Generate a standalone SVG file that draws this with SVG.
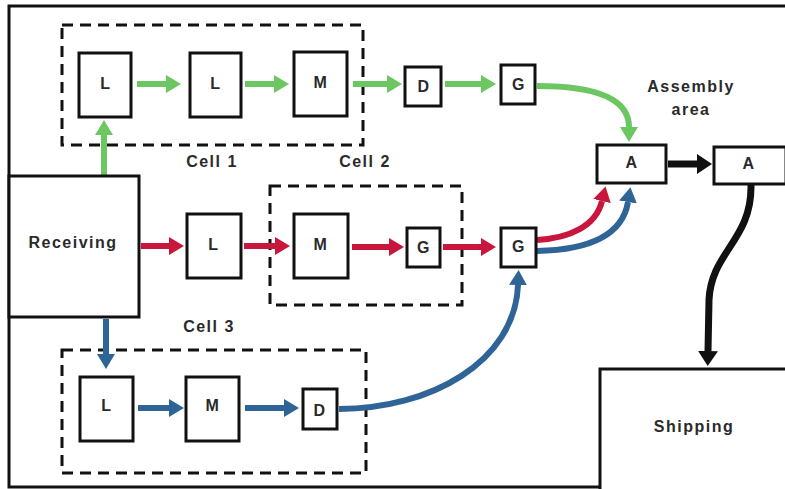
<svg xmlns="http://www.w3.org/2000/svg" width="785" height="489" viewBox="0 0 785 489">
<style>
.box{fill:#fff;stroke:#111;stroke-width:3}
.cell{fill:none;stroke:#111;stroke-width:3;stroke-dasharray:11,7}
.t{font-family:"Liberation Sans",Arial,sans-serif;font-weight:bold;font-size:16px;letter-spacing:1.5px;fill:#2a2a2a;text-anchor:middle}
.g{fill:none;stroke:#6cc763;stroke-width:6}
.r{fill:none;stroke:#c8163c;stroke-width:6}
.b{fill:none;stroke:#2f6496;stroke-width:6}
.k{fill:none;stroke:#111;stroke-width:7}
</style>
<defs>
<marker id="mg" markerUnits="userSpaceOnUse" markerWidth="16" markerHeight="18" refX="0" refY="9" orient="auto"><path d="M0,0 L15,9 L0,18 z" fill="#6cc763"/></marker>
<marker id="mr" markerUnits="userSpaceOnUse" markerWidth="16" markerHeight="18" refX="0" refY="9" orient="auto"><path d="M0,0 L15,9 L0,18 z" fill="#c8163c"/></marker>
<marker id="mb" markerUnits="userSpaceOnUse" markerWidth="16" markerHeight="18" refX="0" refY="9" orient="auto"><path d="M0,0 L15,9 L0,18 z" fill="#2f6496"/></marker>
<marker id="mk" markerUnits="userSpaceOnUse" markerWidth="16" markerHeight="20" refX="0" refY="10" orient="auto"><path d="M0,0 L15,10 L0,20 z" fill="#111"/></marker>
</defs>
<rect width="785" height="489" fill="#fff"/>
<rect x="9" y="6" width="790" height="481" fill="none" stroke="#111" stroke-width="3"/>

<g id="cells">
<rect class="cell" x="62" y="25" width="301" height="120"/>
<rect class="cell" x="270" y="186" width="192" height="119"/>
<rect class="cell" x="62" y="350" width="304" height="123"/>
<text class="t" x="212" y="167">Cell 1</text>
<text class="t" x="365" y="167">Cell 2</text>
<text class="t" x="209" y="332">Cell 3</text>
<text class="t" x="691" y="92">Assembly</text>
<text class="t" x="691" y="115">area</text>
</g>

<g id="connectors">
<path class="g" d="M137,84 H166" marker-end="url(#mg)"/>
<path class="g" d="M245,84 H274" marker-end="url(#mg)"/>
<path class="g" d="M353,84 H387" marker-end="url(#mg)"/>
<path class="g" d="M445,84 H481" marker-end="url(#mg)"/>
<path class="g" d="M104,176 V135" marker-end="url(#mg)"/>
<path class="g" d="M537,86 C600,86 629,100 629,127" marker-end="url(#mg)"/>
<path class="r" d="M141,246 H169" marker-end="url(#mr)"/>
<path class="r" d="M244,246 H275" marker-end="url(#mr)"/>
<path class="r" d="M352,247 H389" marker-end="url(#mr)"/>
<path class="r" d="M443,247 H481" marker-end="url(#mr)"/>
<path class="r" d="M537,240 C570,238 596,226 602,201" marker-end="url(#mr)"/>
<path class="b" d="M537,251 C585,250 622,238 628,202" marker-end="url(#mb)"/>
<path class="b" d="M106,319 V354" marker-end="url(#mb)"/>
<path class="b" d="M138,408 H169" marker-end="url(#mb)"/>
<path class="b" d="M245,408 H284" marker-end="url(#mb)"/>
<path class="b" d="M339,409 C430,409 515,362 518,285" marker-end="url(#mb)"/>
<path class="k" d="M668,164 H697" marker-end="url(#mk)"/>
<path class="k" d="M751,185 C752,240 711,252 709,300 L708,351" marker-end="url(#mk)"/>
</g>

<g id="receiving"><rect class="box" x="9" y="176" width="130" height="141"/><text class="t" x="73" y="248">Receiving</text></g>
<g id="shipping"><rect class="box" x="600" y="369" width="200" height="130"/><text class="t" x="694" y="432">Shipping</text></g>

<g id="c1L1"><rect class="box" x="79" y="53" width="52" height="64"/><text class="t" x="106" y="89">L</text></g>
<g id="c1L2"><rect class="box" x="190" y="53" width="51" height="64"/><text class="t" x="216" y="89">L</text></g>
<g id="c1M"><rect class="box" x="294" y="52" width="53" height="64"/><text class="t" x="321" y="88">M</text></g>
<g id="c1D"><rect class="box" x="405" y="67" width="36" height="39"/><text class="t" x="424" y="92">D</text></g>
<g id="c1G"><rect class="box" x="501" y="65" width="34" height="39"/><text class="t" x="519" y="90">G</text></g>

<g id="c2L"><rect class="box" x="187" y="214" width="54" height="64"/><text class="t" x="214" y="250">L</text></g>
<g id="c2M"><rect class="box" x="294" y="214" width="54" height="64"/><text class="t" x="321" y="250">M</text></g>
<g id="c2G1"><rect class="box" x="407" y="228" width="33" height="39"/><text class="t" x="424" y="253">G</text></g>
<g id="c2G2"><rect class="box" x="501" y="228" width="35" height="39"/><text class="t" x="519" y="252">G</text></g>

<g id="A1"><rect class="box" x="597" y="145" width="69" height="38"/><text class="t" x="632" y="168">A</text></g>
<g id="A2"><rect class="box" x="714" y="147" width="72" height="37"/><text class="t" x="749" y="169">A</text></g>

<g id="c3L"><rect class="box" x="80" y="377" width="53" height="64"/><text class="t" x="107" y="411">L</text></g>
<g id="c3M"><rect class="box" x="186" y="377" width="53" height="64"/><text class="t" x="213" y="411">M</text></g>
<g id="c3D"><rect class="box" x="303" y="389" width="34" height="40"/><text class="t" x="320" y="416">D</text></g>
</svg>
